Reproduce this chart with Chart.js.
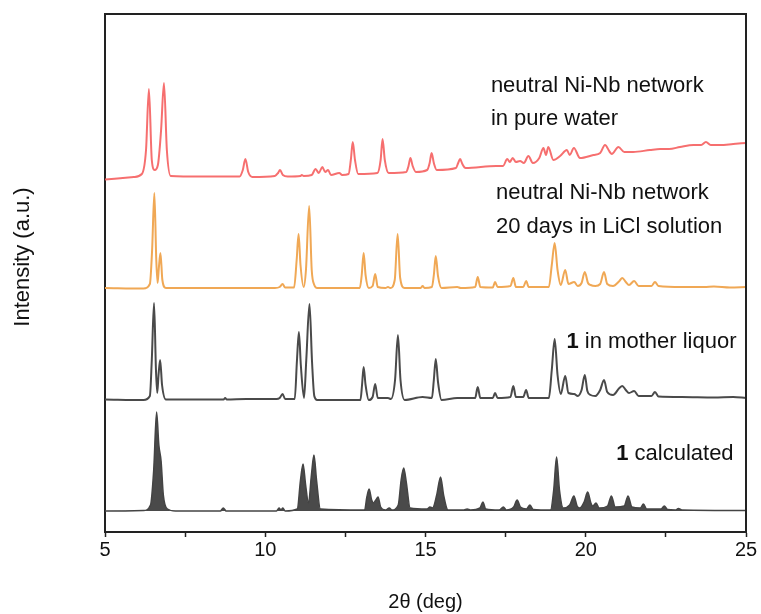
<!DOCTYPE html>
<html>
<head>
<meta charset="utf-8">
<script src="https://cdn.jsdelivr.net/npm/chart.js@4/dist/chart.umd.min.js"></script>
<style>
  html, body { margin: 0; padding: 0; background: #fff; }
  #wrap { width: 761px; height: 614px; position: relative; }
</style>
</head>
<body>
<div id="wrap"><canvas id="myChart"></canvas></div>
<script>
// 2theta axis
const xTickLabels = [5, 10, 15, 20, 25];

// traces, [2theta, intensity (a.u., offset for clarity)]
const waterPattern = [
  [5.0,352.5],[5.9,355],[6.15,358],[6.28,382],[6.37,443],[6.46,372],[6.55,362],[6.65,367],[6.75,402],[6.84,449],
  [6.93,382],[7.05,356],[8,355.5],[9.2,355.5],[9.3,362],[9.38,373],[9.47,360],[9.6,355],[10.3,356],[10.4,359],
  [10.46,362],[10.55,357],[10.7,355.5],[11.1,356],[11.14,357],[11.2,356],[11.45,357],[11.57,363],[11.67,359],[11.78,365],
  [11.87,360],[11.96,362],[12.05,357],[12.31,359],[12.4,357],[12.6,358],[12.67,372],[12.73,390],[12.8,372],[12.9,358],
  [13.5,359],[13.6,372],[13.66,393],[13.73,372],[13.85,359],[14.4,360],[14.47,366],[14.53,374],[14.6,366],[14.7,360],
  [15.05,362],[15.13,369],[15.19,379],[15.26,369],[15.35,362],[15.95,364],[16.02,369],[16.08,373],[16.15,368],[16.25,364],
  [17.2,366],[17.42,366],[17.55,373],[17.63,370],[17.72,374],[17.82,370],[17.95,371],[18.07,369],[18.21,376],[18.35,369],
  [18.55,374],[18.68,384],[18.76,377],[18.83,385],[18.99,372],[19.2,376],[19.41,382],[19.5,377],[19.63,384],[19.82,374],
  [20.24,377],[20.45,379],[20.6,387],[20.75,380],[20.81,378],[21.02,385],[21.2,380],[21.48,380],[22.0,382],[22.32,383],
  [22.6,383],[22.94,385],[23.36,387],[23.6,387],[23.75,390],[23.9,387],[24.19,387],[24.6,388],[25,389]
];

const liclPattern = [
  [5,244],[6.2,243.5],[6.4,248],[6.47,282],[6.54,339],[6.6,272],[6.64,249],[6.68,264],[6.73,279],[6.79,252],
  [6.9,244],[10.3,244],[10.45,245],[10.54,248],[10.62,244.5],[10.9,244.5],[10.98,272],[11.04,298],[11.1,267],[11.2,245],
  [11.27,262],[11.37,326],[11.45,262],[11.53,247],[11.62,244],[12.95,244],[13.01,257],[13.07,279],[13.13,257],[13.23,244],
  [13.35,246],[13.43,258],[13.51,245],[13.75,244],[13.83,245],[13.9,244],[14.04,252],[14.13,298],[14.21,254],[14.35,244],
  [14.85,244],[14.91,246],[14.97,244],[15.2,245],[15.26,257],[15.32,276],[15.39,256],[15.5,244],[15.99,245],[16.1,244],
  [16.55,245],[16.63,255],[16.71,245],[17.1,244.5],[17.17,250],[17.25,245],[17.65,246],[17.74,254],[17.82,245],[18.05,245],
  [18.14,251],[18.22,245],[18.85,245],[18.94,267],[19.03,289],[19.12,262],[19.22,247],[19.36,262],[19.46,248],[19.64,250],
  [19.75,246],[19.87,249],[19.97,260],[20.07,249],[20.15,247],[20.3,246],[20.45,248],[20.57,260],[20.67,248],[20.85,246],
  [21.05,251],[21.14,254],[21.25,250],[21.35,247],[21.51,251],[21.65,246],[22.05,246],[22.16,250],[22.27,246],[23,245],
  [23.7,245],[24.0,245.5],[24.5,244.5],[25,245]
];

const liquorPattern = [
  [5,132.5],[6.2,132],[6.4,136],[6.46,172],[6.53,229],[6.59,162],[6.63,139],[6.67,157],[6.72,172],[6.78,147],
  [6.9,132.5],[8.7,132.5],[8.75,134],[8.8,132.5],[9.4,133],[10.35,133],[10.45,134],[10.54,138],[10.62,133],[10.92,133],
  [10.99,172],[11.05,200],[11.11,167],[11.21,134],[11.28,172],[11.38,228],[11.46,170],[11.53,136],[11.62,132],[12.97,132],
  [13.02,147],[13.07,165],[13.13,147],[13.23,132],[13.35,135],[13.43,148],[13.51,134],[13.83,134],[13.92,133],[14.05,152],
  [14.14,197],[14.22,152],[14.35,132],[14.91,135],[15.2,134],[15.26,152],[15.32,173],[15.39,150],[15.5,132],[15.99,134],
  [16.55,134],[16.63,145],[16.71,134],[17.1,134],[17.17,139],[17.25,134],[17.65,135],[17.74,146],[17.82,135],[18.05,135],
  [18.14,142],[18.22,134],[18.85,134],[18.94,162],[19.03,193],[19.12,157],[19.22,138],[19.36,156],[19.46,139],[19.64,138],
  [19.75,136],[19.87,142],[19.97,157],[20.05,141],[20.15,137],[20.3,136],[20.45,142],[20.57,152],[20.67,140],[20.85,137],
  [21.05,144],[21.14,146],[21.25,142],[21.35,139],[21.51,141],[21.65,136],[22.05,136],[22.16,140],[22.27,135.5],[23,135],
  [24.0,134.5],[24.6,135],[25,134]
];

const calcPattern = [
  [5,21],[6.2,21.5],[6.42,27],[6.52,62],[6.61,120],[6.68,87],[6.75,71],[6.82,37],[6.95,23],[7.2,21],
  [8.6,21],[8.69,24],[8.78,21],[10.35,21],[10.43,24],[10.49,22],[10.55,24],[10.62,21],[11.0,23],[11.1,52],
  [11.18,68],[11.26,47],[11.35,29],[11.44,57],[11.52,77],[11.6,52],[11.72,23],[13.1,22],[13.17,35],[13.24,43],
  [13.32,32],[13.38,29],[13.45,32],[13.52,35],[13.6,25],[13.75,22],[13.87,24],[13.95,22],[14.15,27],[14.24,52],
  [14.32,64],[14.4,50],[14.52,24],[15.05,23],[15.14,25],[15.22,24],[15.35,37],[15.47,55],[15.57,36],[15.7,22],
  [16.2,22],[16.3,23],[16.4,22],[16.7,24],[16.79,30],[16.88,23],[17.3,22],[17.43,25],[17.52,22],[17.75,25],
  [17.86,32],[17.96,25],[18.15,23],[18.26,27],[18.36,22.5],[18.9,22],[19.0,42],[19.09,75],[19.18,42],[19.3,24],
  [19.5,27],[19.63,36],[19.73,26],[19.82,24],[19.95,30],[20.06,40],[20.16,29],[20.22,26],[20.32,29],[20.42,24],
  [20.68,26],[20.8,36],[20.92,25],[21.2,26],[21.32,36],[21.44,25],[21.7,24],[21.8,28],[21.9,23],[22.35,23],
  [22.45,26],[22.55,22.5],[22.8,22],[22.89,23.5],[23.0,22],[25,21.5]
];
const calcBaseline = 21;

const FONT = '"Liberation Sans", Arial, sans-serif';

function toPoints(arr) {
  return arr.map(p => ({ x: p[0], y: p[1] }));
}

// frame on top and right, y title, and the text labels next to each trace
const framePlugin = {
  id: 'frame',
  afterDraw(chart) {
    const { ctx, chartArea } = chart;
    const xs = chart.scales.x, ys = chart.scales.y;
    ctx.save();
    ctx.strokeStyle = '#222';
    ctx.lineWidth = 2;
    ctx.beginPath();
    ctx.moveTo(chartArea.left, chartArea.top);
    ctx.lineTo(chartArea.right, chartArea.top);
    ctx.lineTo(chartArea.right, chartArea.bottom);
    ctx.stroke();

    ctx.fillStyle = '#111';
    ctx.textBaseline = 'middle';

    // y axis title
    ctx.save();
    ctx.translate(23, 257);
    ctx.rotate(-Math.PI / 2);
    ctx.textAlign = 'center';
    ctx.font = '22px ' + FONT;
    ctx.fillText('Intensity (a.u.)', 0, 0);
    ctx.restore();

    ctx.textAlign = 'left';
    const labels = [
      { x: 17.04, y: 446, bold: '', text: 'neutral Ni-Nb network' },
      { x: 17.04, y: 413, bold: '', text: 'in pure water' },
      { x: 17.2, y: 339, bold: '', text: 'neutral Ni-Nb network' },
      { x: 17.2, y: 305, bold: '', text: '20 days in LiCl solution' },
      { x: 19.4, y: 190, bold: '1', text: ' in mother liquor' },
      { x: 20.95, y: 78, bold: '1', text: ' calculated' }
    ];
    labels.forEach(l => {
      let px = xs.getPixelForValue(l.x);
      const py = ys.getPixelForValue(l.y);
      if (l.bold) {
        ctx.font = 'bold 22px ' + FONT;
        ctx.fillText(l.bold, px, py);
        px += ctx.measureText(l.bold).width;
      }
      ctx.font = '22px ' + FONT;
      ctx.fillText(l.text, px, py);
    });
    ctx.restore();
  }
};

const ctx = document.getElementById('myChart');

new Chart(ctx, {
  type: 'line',
  data: {
    datasets: [{
      label: 'neutral Ni-Nb network in pure water',
      data: toPoints(waterPattern),
      borderColor: 'rgba(245,95,95,0.9)',
      borderWidth: 2,
      fill: false
    }, {
      label: 'neutral Ni-Nb network 20 days in LiCl solution',
      data: toPoints(liclPattern),
      borderColor: 'rgb(240,168,85)',
      borderWidth: 2,
      fill: false
    }, {
      label: '1 in mother liquor',
      data: toPoints(liquorPattern),
      borderColor: '#4a4a4a',
      borderWidth: 2,
      fill: false
    }, {
      label: '1 calculated',
      data: toPoints(calcPattern),
      borderColor: '#444',
      backgroundColor: '#4a4a4a',
      borderWidth: 1.5,
      fill: { value: calcBaseline }
    }]
  },
  options: {
    responsive: true,
    maintainAspectRatio: false,
    animation: false,
    layout: { padding: { top: 14, right: 15, left: 0, bottom: 0 } },
    elements: {
      point: { radius: 0 },
      line: { cubicInterpolationMode: 'monotone' }
    },
    plugins: {
      legend: { display: false },
      tooltip: { enabled: false }
    },
    scales: {
      x: {
        type: 'linear',
        min: 5,
        max: 25,
        afterFit: scale => { scale.height = 82; },
        ticks: {
          stepSize: 2.5,
          autoSkip: false,
          maxRotation: 0,
          color: '#111',
          padding: 1,
          font: { family: FONT, size: 20 },
          callback: v => xTickLabels.includes(v) ? String(v) : ''
        },
        grid: {
          display: true,
          drawOnChartArea: false,
          drawTicks: true,
          tickLength: 5,
          tickColor: '#222',
          tickWidth: 1.5
        },
        border: { display: true, color: '#222', width: 2 },
        title: {
          display: true,
          text: '2θ (deg)',
          color: '#111',
          font: { family: FONT, size: 20 },
          padding: { top: 0, bottom: 0 }
        }
      },
      y: {
        min: 0,
        max: 518,
        afterFit: scale => { scale.width = 105; },
        ticks: { display: false },
        grid: { display: false },
        border: { display: true, color: '#222', width: 2 }
      }
    }
  },
  plugins: [framePlugin]
});
</script>
</body>
</html>
